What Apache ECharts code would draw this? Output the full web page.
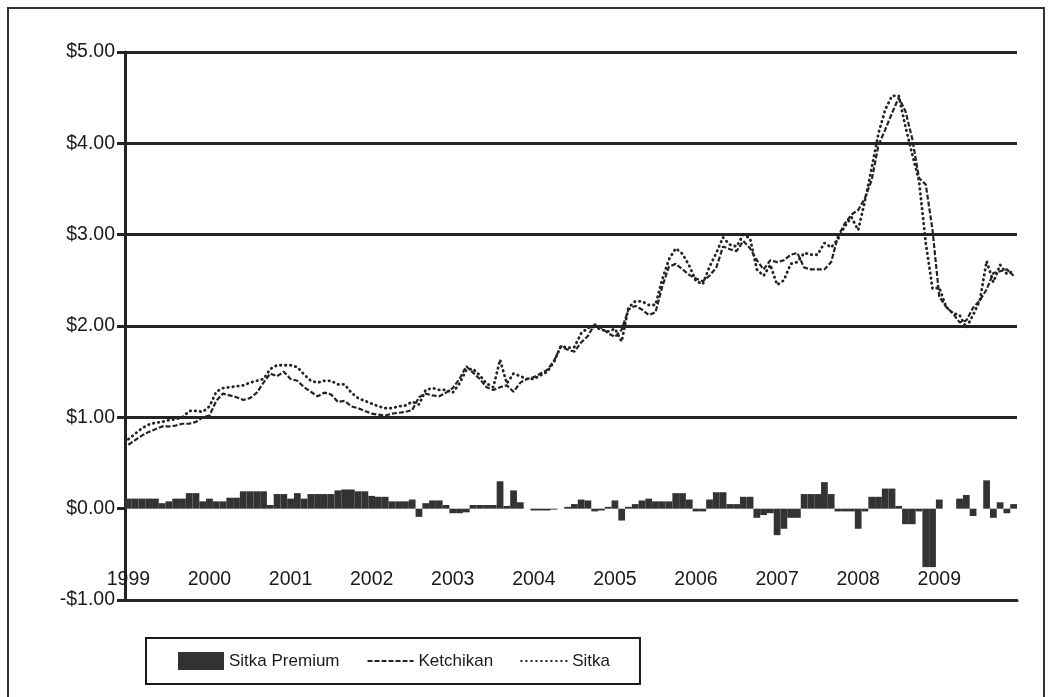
<!DOCTYPE html>
<html>
<head>
<meta charset="utf-8">
<script src="https://cdn.jsdelivr.net/npm/echarts@6/dist/echarts.min.js"></script>
<style>
html,body{margin:0;padding:0;background:#fff;}
#chart{width:1052px;height:697px;}
</style>
</head>
<body>
<div id="chart"></div>
<script>
// Tick labels (years) and monthly categories
const years = ['1999','2000','2001','2002','2003','2004','2005','2006','2007','2008','2009'];
const monthsPerYear = 12;

// Ketchikan price ($), monthly 1999-2009
const ketchikan = [
  0.70,0.75,0.80,0.84,0.87,0.90,0.90,0.91,0.93,0.93,0.95,1.00,
  1.02,1.18,1.26,1.24,1.22,1.19,1.21,1.27,1.38,1.48,1.45,1.50,
  1.42,1.40,1.33,1.28,1.23,1.27,1.25,1.17,1.18,1.12,1.10,1.07,
  1.04,1.03,1.02,1.04,1.05,1.06,1.08,1.22,1.26,1.24,1.23,1.27,
  1.32,1.42,1.56,1.49,1.42,1.33,1.30,1.33,1.35,1.28,1.38,1.42,
  1.44,1.48,1.52,1.62,1.78,1.74,1.72,1.82,1.89,2.02,1.98,1.92,
  1.88,1.96,2.18,2.22,2.18,2.12,2.15,2.43,2.65,2.68,2.62,2.56,
  2.52,2.49,2.55,2.64,2.87,2.84,2.82,2.93,2.85,2.72,2.62,2.72,
  2.70,2.72,2.78,2.80,2.64,2.62,2.62,2.62,2.70,2.98,3.12,3.22,
  3.27,3.40,3.60,3.98,4.15,4.33,4.50,4.35,4.05,3.62,3.55,3.05,
  2.32,2.21,2.14,2.04,2.06,2.20,2.28,2.40,2.58,2.60,2.62,2.55
];

// Sitka price ($), monthly 1999-2009
const sitka = [
  0.76,0.82,0.88,0.92,0.94,0.95,0.97,0.98,1.00,1.07,1.07,1.06,
  1.12,1.28,1.32,1.33,1.34,1.35,1.38,1.40,1.42,1.53,1.57,1.57,
  1.57,1.55,1.47,1.40,1.38,1.40,1.40,1.36,1.36,1.27,1.21,1.18,
  1.15,1.12,1.10,1.10,1.12,1.13,1.17,1.14,1.30,1.32,1.30,1.30,
  1.27,1.37,1.52,1.53,1.46,1.37,1.33,1.63,1.37,1.48,1.45,1.42,
  1.42,1.46,1.50,1.61,1.78,1.76,1.77,1.92,1.98,1.99,1.96,1.94,
  1.97,1.83,2.20,2.27,2.27,2.23,2.23,2.51,2.73,2.85,2.79,2.66,
  2.49,2.46,2.65,2.80,2.97,2.89,2.87,3.00,2.96,2.62,2.55,2.67,
  2.45,2.50,2.68,2.70,2.80,2.78,2.78,2.91,2.86,2.95,3.09,3.19,
  3.05,3.37,3.73,4.11,4.37,4.52,4.52,4.18,3.88,3.59,2.91,2.41,
  2.42,2.21,2.14,2.12,1.98,2.12,2.28,2.71,2.48,2.67,2.57,2.60
];

// Sitka premium ($), monthly bars
const sitkaPremium = [
  0.11,0.11,0.11,0.11,0.11,0.06,0.08,0.11,0.11,0.17,0.17,0.08,
  0.11,0.08,0.08,0.12,0.12,0.19,0.19,0.19,0.19,0.04,0.16,0.16,
  0.11,0.17,0.11,0.16,0.16,0.16,0.16,0.20,0.21,0.21,0.19,0.19,
  0.14,0.13,0.13,0.08,0.08,0.08,0.10,-0.09,0.06,0.09,0.09,0.04,
  -0.05,-0.05,-0.04,0.04,0.04,0.04,0.04,0.30,0.03,0.20,0.07,0.00,
  -0.02,-0.02,-0.02,-0.01,0.00,0.02,0.05,0.10,0.09,-0.03,-0.02,0.02,
  0.09,-0.13,0.02,0.05,0.09,0.11,0.08,0.08,0.08,0.17,0.17,0.10,
  -0.03,-0.03,0.10,0.18,0.18,0.05,0.05,0.13,0.13,-0.10,-0.07,-0.05,
  -0.29,-0.22,-0.10,-0.10,0.16,0.16,0.16,0.29,0.16,-0.03,-0.03,-0.03,
  -0.22,-0.03,0.13,0.13,0.22,0.22,0.03,-0.17,-0.17,-0.03,-0.64,-0.64,
  0.10,0.00,0.00,0.11,0.15,-0.08,0.00,0.31,-0.10,0.07,-0.05,0.05
];

const categories = [];
years.forEach(y => { for (let m = 1; m <= monthsPerYear; m++) categories.push(y + '-' + (m < 10 ? '0' + m : m)); });

const ink = '#242424';
const font = 'Liberation Sans, Arial, sans-serif';
const hiddenSymbol = {color: 'rgba(0,0,0,0)', borderColor: 'rgba(0,0,0,0)', borderWidth: 0, opacity: 0};

const chart = echarts.init(document.getElementById('chart'), null, {renderer: 'canvas'});
chart.setOption({
  animation: false,
  backgroundColor: '#ffffff',
  graphic: [{
    type: 'rect',
    shape: {x: 8, y: 8, width: 1036, height: 720},
    style: {fill: 'none', stroke: '#333', lineWidth: 2},
    silent: true, z: -10
  }],
  grid: {left: 125, right: 35, top: 52, bottom: 97, containLabel: false},
  legend: {
    left: 146, top: 638,
    orient: 'horizontal',
    itemWidth: 46, itemHeight: 18, itemGap: 27,
    padding: [14, 30, 14, 32],
    borderColor: '#1a1a1a', borderWidth: 2,
    textStyle: {fontFamily: font, fontSize: 17, color: '#1a1a1a'},
    data: [
      {name: 'Sitka Premium', icon: 'rect'},
      {name: 'Ketchikan', itemStyle: hiddenSymbol},
      {name: 'Sitka', itemStyle: hiddenSymbol}
    ]
  },
  xAxis: {
    type: 'category',
    data: categories,
    boundaryGap: true,
    axisLine: {show: true, onZero: false, lineStyle: {color: ink, width: 3}},
    axisTick: {show: false},
    splitLine: {show: false},
    axisLabel: {
      inside: true, margin: 10,
      interval: (idx) => idx % monthsPerYear === 0,
      formatter: (v) => v.slice(0, 4),
      fontFamily: font, fontSize: 19.5, color: '#1a1a1a'
    }
  },
  yAxis: {
    type: 'value',
    min: -1, max: 5, interval: 1,
    axisLine: {show: true, lineStyle: {color: ink, width: 3}},
    axisTick: {show: true, length: 8, lineStyle: {color: ink, width: 3}},
    axisLabel: {
      margin: 10,
      fontFamily: font, fontSize: 19.5, color: '#1a1a1a',
      formatter: (v) => (v < 0 ? '-$' : '$') + Math.abs(v).toFixed(2)
    },
    splitLine: {
      show: true,
      lineStyle: {color: [ink, 'rgba(0,0,0,0)', ink, ink, ink, ink, ink], width: 3}
    }
  },
  series: [
    {
      name: 'Sitka Premium', type: 'bar',
      data: sitkaPremium,
      barWidth: '100%', barCategoryGap: '0%',
      itemStyle: {color: '#333333'},
      z: 2
    },
    {
      name: 'Ketchikan', type: 'line',
      data: ketchikan,
      symbol: 'none', smooth: false,
      lineStyle: {color: ink, width: 2.2, type: [5, 2]},
      itemStyle: {color: ink},
      z: 3
    },
    {
      name: 'Sitka', type: 'line',
      data: sitka,
      symbol: 'none', smooth: false,
      lineStyle: {color: ink, width: 2.8, type: [0.5, 4.5], cap: 'round'},
      itemStyle: {color: ink},
      z: 4
    }
  ]
});
</script>
</body>
</html>
